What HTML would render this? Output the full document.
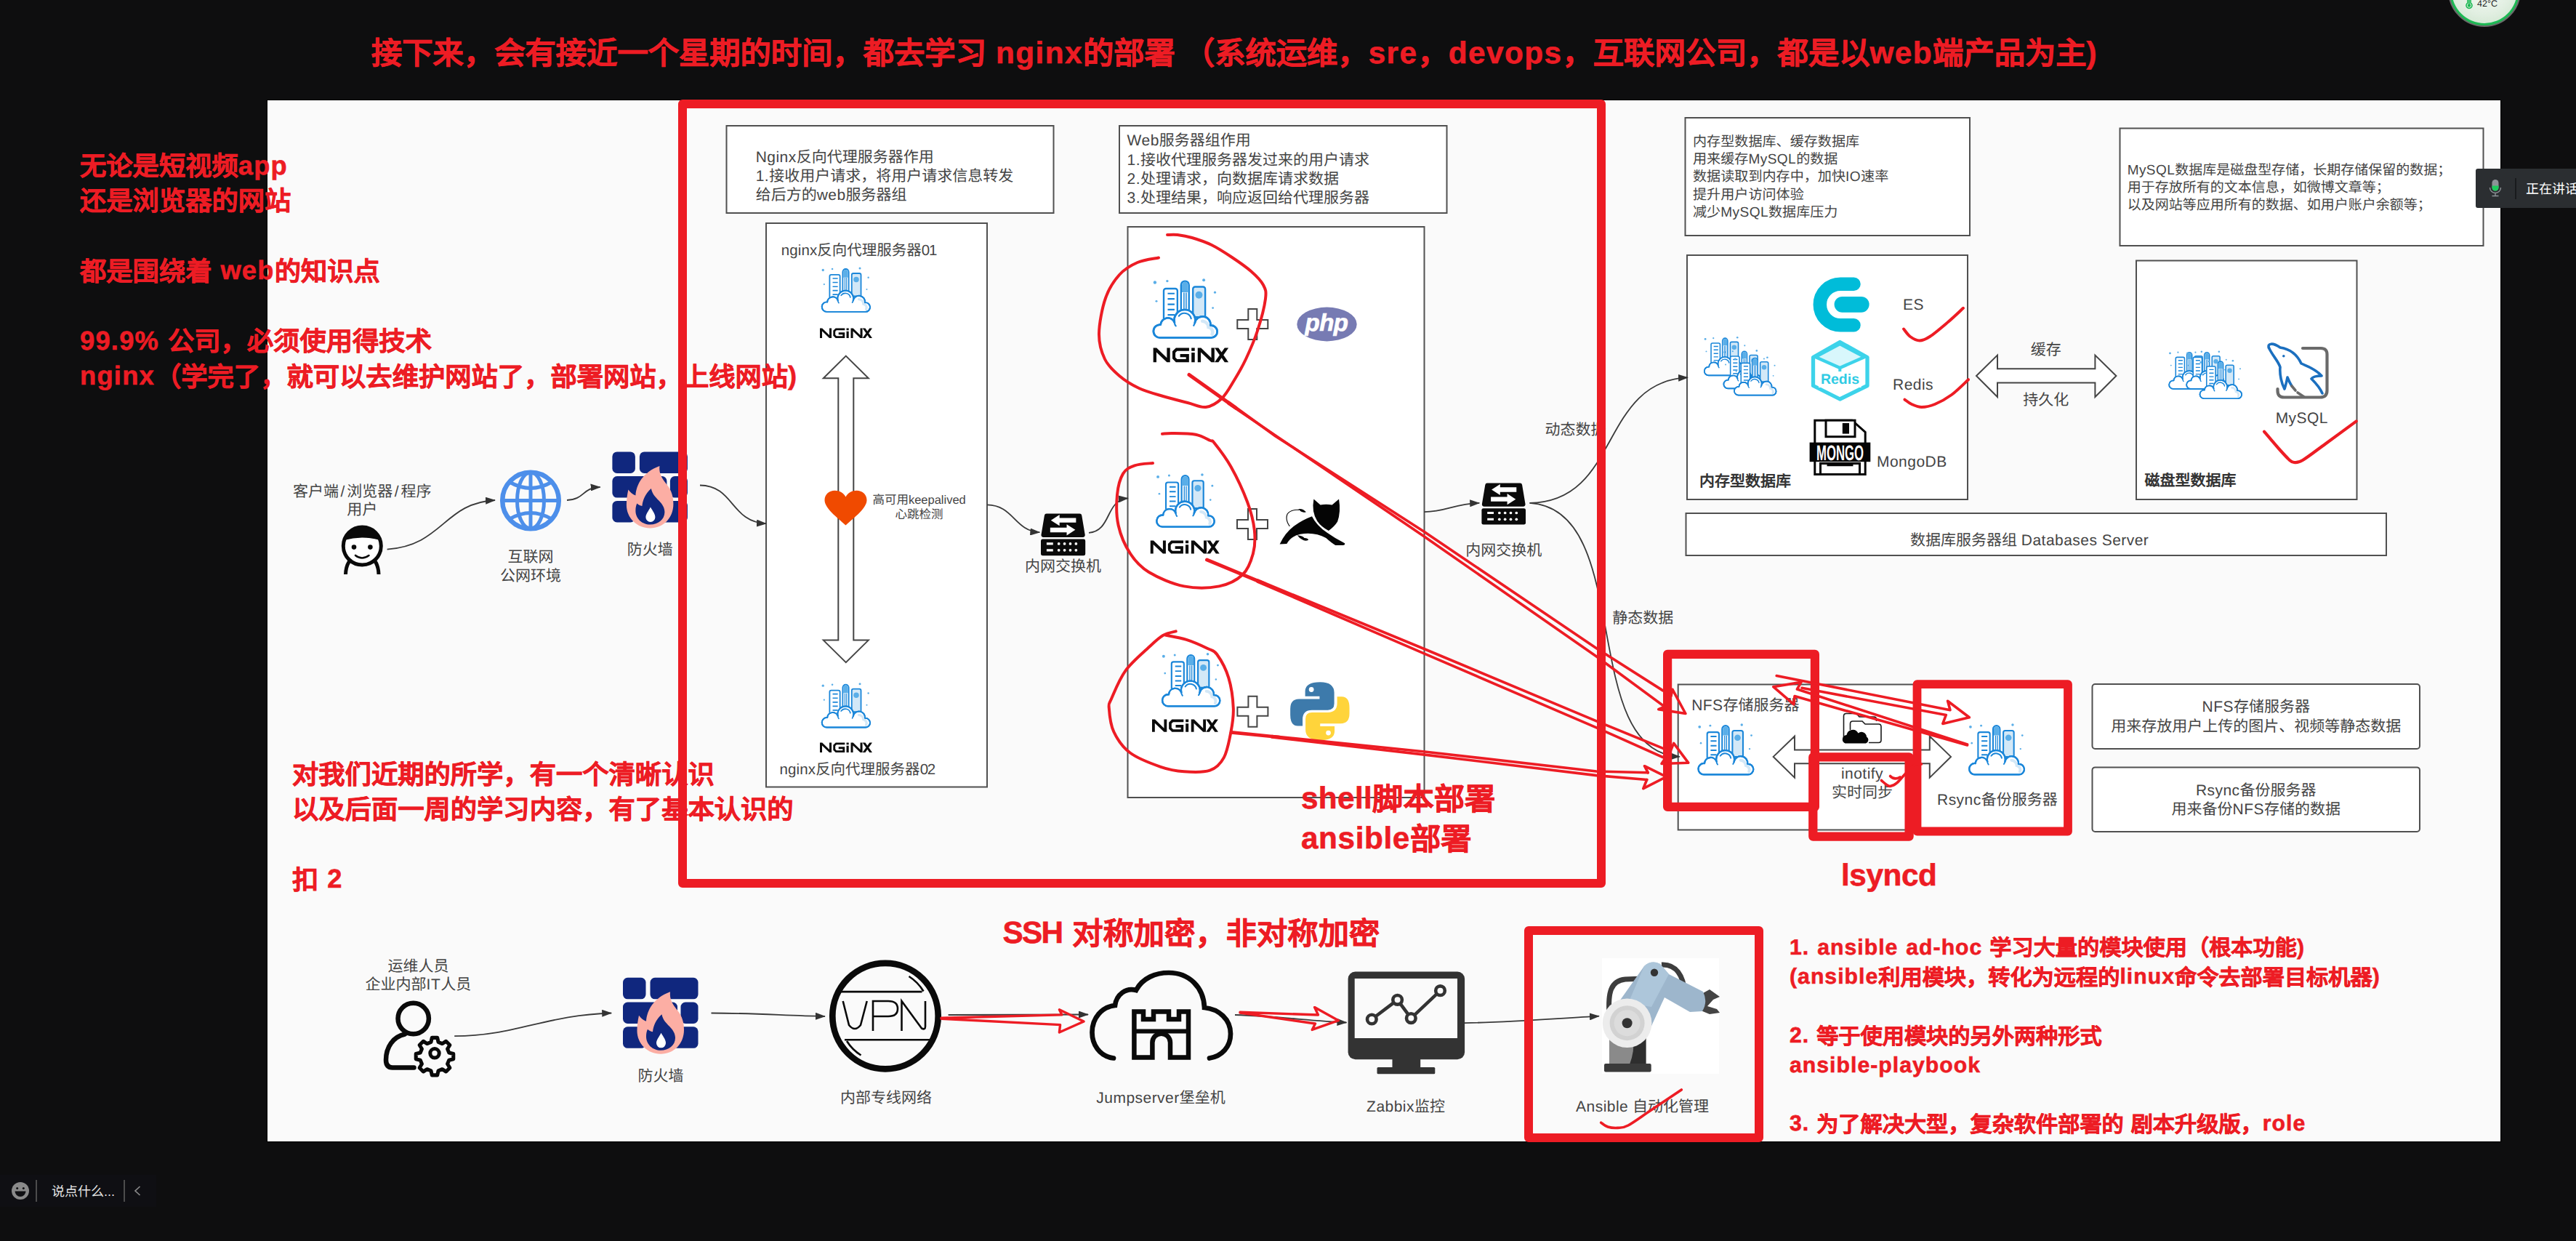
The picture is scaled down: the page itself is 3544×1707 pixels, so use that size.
<!DOCTYPE html>
<html lang="zh-CN">
<head>
<meta charset="utf-8">
<title>nginx architecture</title>
<style>
html,body{margin:0;padding:0;background:#0e0e0f;}
body{width:3544px;height:1707px;position:relative;overflow:hidden;font-family:"Liberation Sans",sans-serif;text-rendering:geometricPrecision;}
.panel{position:absolute;left:368px;top:138px;width:3072px;height:1432px;background:#fafafa;box-sizing:border-box;border:1px solid #fff;box-shadow:0 0 0 1px #000;}
svg.layer{position:absolute;left:0;top:0;width:3544px;height:1707px;overflow:visible;}
.t{position:absolute;white-space:nowrap;color:#454545;font-size:21px;line-height:26.3px;}
.t i{font-style:normal;letter-spacing:.022em;}
.c{text-align:center;transform:translateX(-50%);}
.r{position:absolute;white-space:nowrap;color:#ed1c24;font-weight:bold;-webkit-text-stroke:0.6px #ed1c24;}
.r{word-spacing:.05em;margin-top:1px;}
.t{margin-top:1.2px;}
.r b{letter-spacing:.034em;position:relative;top:-1.3px;}
.bx{fill:#fff;stroke:#505050;stroke-width:2;}
.ar{fill:none;stroke:#3a3a3a;stroke-width:1.8;}
.ah{fill:#3a3a3a;stroke:none;}
.rl{fill:none;stroke:#ed1c24;stroke-linecap:round;stroke-linejoin:round;}
</style>
</head>
<body>
<div class="panel"></div>

<!-- ===== diagram shapes ===== -->
<svg class="layer" id="dg" viewBox="0 0 3544 1707">
<defs>
<symbol id="city" viewBox="0 0 89 84" overflow="visible">
<g fill="#5aaee8"><circle cx="2.3" cy="6" r="2.2"/><circle cx="19.4" cy="4" r="1.7"/><circle cx="70" cy="2.7" r="2"/><circle cx="85.5" cy="19.7" r="1.6"/><circle cx="4.4" cy="32" r="1.5"/><circle cx="82.6" cy="41.3" r="1.4"/></g>
<path d="M55,54V15a3,3 0 0 1 3,-3h11a3,3 0 0 1 3,3V54z" fill="#d3e8f7" stroke="#1a86d9" stroke-width="2.4"/>
<circle cx="63.3" cy="23.4" r="5" fill="#5aaee8"/>
<path d="M14.5,56V17.5a3,3 0 0 1 3,-3h13a3,3 0 0 1 3,3V56" fill="#fff" stroke="#1a86d9" stroke-width="2.4"/>
<path d="M20,21.3h9.5M20,28.7h9.5M20,36.3h9.5M20,43.5h9.5M20,50.8h9.5" stroke="#1a86d9" stroke-width="2.2" fill="none"/>
<path d="M38.5,48V9.5a5.5,5.5 0 0 1 11,0V48" fill="#fff" stroke="#1a86d9" stroke-width="2.4"/>
<path d="M39.7,19.5V9.5a4.3,4.3 0 0 1 8.6,0V19.5z" fill="#5aaee8"/>
<path d="M42.6,20V46M45.6,20V46" stroke="#1a86d9" stroke-width="1.5" fill="none"/>
<path d="M9.5,82.5A9,9 0 1 1 10.2,64.55A10,10 0 0 1 29.5,61.5A14.5,14.5 0 1 1 57.6,62A11,11 0 0 1 79.3,65.55A8.5,8.5 0 1 1 80,82.5Z" fill="#fff" stroke="#1a86d9" stroke-width="2.6" stroke-linejoin="round"/>
<path d="M68,59.5a9,9 0 0 1 8.5,8.5a7,7 0 0 1 5,10" fill="none" stroke="#d3e8f7" stroke-width="4.5" stroke-linecap="round"/>
<path d="M9.5,82.5A9,9 0 1 1 10.2,64.55A10,10 0 0 1 29.5,61.5A14.5,14.5 0 1 1 57.6,62A11,11 0 0 1 79.3,65.55A8.5,8.5 0 1 1 80,82.5Z" fill="none" stroke="#1a86d9" stroke-width="2.6" stroke-linejoin="round"/>
<path d="M35.500,52.500a9.500,9.500 0 0 1 17,3.500M29.500,61.500a8,8 0 0 0 1.800,4.800M57.600,62a9,9 0 0 1 -1.600,3.600" fill="none" stroke="#1a86d9" stroke-width="2.2" stroke-linecap="round"/>
</symbol>
<symbol id="ngx" viewBox="0 0 105 21" overflow="visible">
<g fill="#0b0b0b">
<path d="M0,.5h4.6l14.4,14v-14h4.4v20h-4.4L4.4,6.5v14H0z"/>
<path d="M62,.5h4.6l14.4,14v-14h4.4v20h-4.4L66.4,6.5v14H62z"/>
<path d="M53.3,.5h4.6v4.3h-4.6zM53.3,7h4.6v13.5h-4.6z"/>
<path d="M85.6,.5h5.4l14,20h-5.4zM99.600,.5h5.400l-14,20h-5.400z"/>
</g>
<path d="M50,2.6H32.500L28.800,6.300V14.700L32.500,18.400H47.800V11.300H37.500" fill="none" stroke="#0b0b0b" stroke-width="4.200" stroke-linejoin="miter"/>
</symbol>
<symbol id="plus" viewBox="0 0 44 44" overflow="visible">
<path d="M16,1H28V16H43V28H28V43H16V28H1V16H16Z" fill="#fff" stroke="#454545" stroke-width="2"/>
</symbol>
<symbol id="sw" viewBox="0 0 62 60" overflow="visible">
<path d="M8,1.500h46a3,3 0 0 1 3,2.500l4.500,27a3,3 0 0 1 -3,3.500h-55a3,3 0 0 1 -3,-3.500l4.500,-27a3,3 0 0 1 3,-2.500z" fill="#0a0a0a"/>
<rect x="0" y="37" width="62" height="23" rx="2.500" fill="#0a0a0a"/>
<path d="M49,7.500v6.500h-23v4.500l-12,-7.700l12,-7.800v4.500zM13,21h23v-4.500l12,7.700l-12,7.800v-4.500h-23z" fill="#fff"/>
<path d="M8,43.500h9M8,52.500h9" stroke="#fff" stroke-width="3.200"/>
<g fill="#fff"><circle cx="25" cy="43.500" r="1.900"/><circle cx="33" cy="43.500" r="1.900"/><circle cx="41" cy="43.500" r="1.900"/><circle cx="49" cy="43.500" r="1.900"/><circle cx="25" cy="52.500" r="1.900"/><circle cx="33" cy="52.500" r="1.900"/><circle cx="41" cy="52.500" r="1.900"/><circle cx="49" cy="52.500" r="1.900"/></g>
</symbol>
<symbol id="fw" viewBox="0 0 103.500 105" overflow="visible">
<g fill="#10277e">
<rect x="0" y="0" width="31.500" height="29.500" rx="6.500"/><rect x="37.500" y="0" width="66" height="29.500" rx="6.500"/>
<rect x="0" y="33.700" width="75" height="29.500" rx="6.500"/><rect x="79.500" y="33.700" width="24" height="29.500" rx="6.500"/>
<rect x="0" y="67.500" width="31.500" height="29.500" rx="6.500"/><rect x="37.500" y="67.500" width="66" height="29.500" rx="6.500"/>
</g>
<path d="M65,19.500C64,30 68,36 75,45C82,54 84,62 84,72C84,91 70,105 52,105C34,105 19.500,91 19.500,73C19.500,66 20.500,59 22,52C25,56 28,58.500 32,60C33,45 42,28 65,19.500Z" fill="#fcaea4"/>
<path d="M53.500,50.500C55,58 59,62 64,67C69,72 72,77 72,83C72,93 63,100 52,100C41,100 32,92 32,81C32,77 32.500,74 34,71C36,73 38,74 41,74.500C42,66 45,58 53.500,50.500Z" fill="#10277e"/>
<path d="M52.500,76C56,82 59,85.500 59,90A6.500,6.500 0 0 1 46,90C46,85.500 49.500,82 52.500,76Z" fill="#fff"/>
</symbol>
<marker id="ah" viewBox="0 0 14 10" refX="13" refY="5" markerWidth="14" markerHeight="10" markerUnits="userSpaceOnUse" orient="auto"><path d="M0,0L14,5L0,10Z" fill="#333"/></marker>
</defs>
<g id="boxes">
<rect class="bx" x="999.5" y="173" width="450" height="120"/>
<rect class="bx" x="1540" y="173" width="450.5" height="120"/>
<rect class="bx" x="1054" y="307" width="304" height="775.5"/>
<rect class="bx" x="1551.5" y="312" width="408" height="785"/>
<rect class="bx" x="2318.5" y="162" width="391.5" height="162"/>
<rect class="bx" x="2916.5" y="176.5" width="500" height="161.5"/>
<rect class="bx" x="2321" y="351" width="386" height="336"/>
<rect class="bx" x="2939" y="358.5" width="303.5" height="328.5"/>
<rect class="bx" x="2319.5" y="706" width="963.5" height="58"/>
<rect class="bx" x="2308.7" y="941.5" width="535" height="200"/>
<rect class="bx" x="2878.5" y="941" width="450.5" height="89" rx="4"/>
<rect class="bx" x="2878.5" y="1055.4" width="450.5" height="88.6" rx="4"/>
</g>
<g id="icons">
<!-- proxy column -->
<use href="#city" x="1130.5" y="367" width="66.8" height="63"/>
<use href="#ngx" x="1128" y="451" width="72" height="14.5"/>
<use href="#city" x="1130.5" y="938.7" width="66.800" height="63"/>
<use href="#ngx" x="1128" y="1021" width="72" height="14.500"/>
<path d="M1163.800,489.600L1194.800,520.200H1174.300V880.600H1194.800L1163.800,911.200L1132.800,880.600H1153.300V520.200H1132.800Z" fill="#fff" stroke="#454545" stroke-width="2" stroke-linejoin="miter"/>
<path d="M1163.500,722.500C1152,712 1134.500,699 1134.500,688C1134.500,680 1141,674.800 1148.500,674.800C1155,674.800 1160.500,678 1163.500,683.500C1166.500,678 1172,674.800 1178.500,674.800C1186,674.800 1192.500,680 1192.500,688C1192.500,699 1175,712 1163.500,722.500Z" fill="#f04a00"/>
<!-- web column -->
<use href="#city" x="1586.600" y="382.600" width="88.400" height="83.400"/>
<use href="#ngx" x="1585.800" y="478" width="105.200" height="20.700"/>
<use href="#city" x="1591" y="650" width="80" height="76.500"/>
<use href="#ngx" x="1581.500" y="743" width="97.500" height="19"/>
<use href="#city" x="1598" y="897.400" width="81.400" height="75.300"/>
<use href="#ngx" x="1585" y="989" width="91" height="18.400"/>
<use href="#plus" x="1701.300" y="424" width="44" height="44"/>
<use href="#plus" x="1701" y="699" width="44" height="44"/>
<use href="#plus" x="1701.400" y="956.700" width="44" height="44"/>
<!-- php -->
<ellipse cx="1825.500" cy="446" rx="41.200" ry="23.400" fill="#777bb3"/>
<text x="1825" y="454.500" font-family="Liberation Sans, sans-serif" font-weight="bold" font-style="italic" font-size="33" fill="#fff" text-anchor="middle" letter-spacing="-.5" stroke="#fff" stroke-width=".7">php</text>
<!-- tomcat -->
<g transform="translate(1560,620) scale(0.16116)" fill="#050505">
<path d="M1535,412L1592,462Q1640,452 1692,462L1750,412Q1768,520 1738,605Q1710,650 1662,682Q1600,650 1565,600Q1515,520 1535,412Z"/>
<path d="M1520,560Q1560,640 1650,700Q1720,750 1800,790Q1805,806 1785,806L1720,806Q1690,790 1640,745Q1540,690 1420,712Q1340,730 1305,795L1245,797Q1290,700 1370,640Q1440,590 1520,560Z"/>
<path d="M1405,497Q1440,490 1470,522Q1430,535 1405,497ZM1395,722Q1440,725 1455,745Q1485,745 1490,762Q1460,775 1435,757Q1410,745 1395,722Z"/>
<path d="M1330,645Q1290,590 1310,540Q1340,500 1410,505" fill="none" stroke="#050505" stroke-width="7"/>
</g>
<!-- python -->
<g transform="translate(1560,880) scale(0.16116)">
<g fill="#3d7aab"><path id="pyb" d="M1590,362Q1650,362 1680,385Q1710,410 1710,450V545Q1710,600 1655,600H1520Q1440,600 1440,680V735H1400Q1335,735 1335,640V590Q1335,505 1410,505H1585V482H1462V440Q1462,362 1590,362Z"/></g>
<circle cx="1515" cy="425" r="21" fill="#fff"/>
<g fill="#ffd43b"><use href="#pyb" transform="rotate(180 1587.500 610)"/></g>
<circle cx="1660" cy="795" r="21" fill="#fff"/>
</g>
<!-- switches -->
<use href="#sw" x="1432" y="704.800" width="61.200" height="59.600"/>
<use href="#sw" x="2038.400" y="662.800" width="60.600" height="59"/>
<!-- user -->
<g>
<path d="M475.500,790C476,776 482,768 490,765M521,790C520.500,776 514.500,768 507,765" fill="none" stroke="#0a0a0a" stroke-width="5" stroke-linecap="butt"/>
<circle cx="498.300" cy="751" r="26" fill="#fff" stroke="#0a0a0a" stroke-width="5"/>
<path d="M473.500,743A26,26 0 0 1 523,743Q498,736 473.500,743Z" fill="#0a0a0a"/>
<circle cx="487" cy="752.600" r="3.300" fill="#0a0a0a"/><circle cx="509.400" cy="752.600" r="3.300" fill="#0a0a0a"/>
<path d="M489,764Q498,771 507.500,764" fill="none" stroke="#0a0a0a" stroke-width="2.600" stroke-linecap="round"/>
</g>
<!-- globe -->
<g fill="none" stroke="#4d8fea" stroke-width="6.500">
<circle cx="730" cy="688.500" r="38.800"/>
<ellipse cx="730" cy="688.500" rx="18.500" ry="38.800" stroke-width="5"/>
<path d="M730,650V727M691,688.500H769" stroke-width="5"/>
<path d="M701,663Q730,680 759,663M701,714Q730,697 759,714" stroke-width="5"/>
</g>
<!-- firewalls -->
<use href="#fw" x="842.400" y="621.400" width="103.500" height="105"/>
<use href="#fw" x="857" y="1344.800" width="103.500" height="105"/>
<!-- ops user -->
<g fill="none" stroke="#0a0a0a" stroke-width="6.500" stroke-linecap="round">
<circle cx="568.700" cy="1401" r="21.200"/>
<path d="M557,1422.500C541,1426 531,1440 531,1458C531,1465 534,1468.500 540,1468.500H569.500"/>
<circle cx="598" cy="1448.800" r="6.200" stroke-width="5"/>
<path d="M594,1425.500h8l1.500,6.500l5.800,2.400l5.700,-3.600l5.700,5.700l-3.600,5.700l2.400,5.800l6.500,1.500v8l-6.500,1.500l-2.400,5.800l3.600,5.700l-5.700,5.700l-5.700,-3.600l-5.800,2.400l-1.500,6.500h-8l-1.500,-6.500l-5.800,-2.400l-5.700,3.600l-5.700,-5.700l3.600,-5.700l-2.400,-5.800l-6.500,-1.500v-8l6.500,-1.500l2.400,-5.800l-3.600,-5.700l5.700,-5.700l5.700,3.600l5.800,-2.400z" stroke-width="5.500" stroke-linejoin="round" transform="translate(598 1448.800) scale(0.92) translate(-598 -1448.800)"/>
</g>
<!-- VPN -->
<g fill="none" stroke="#0a0a0a">
<circle cx="1218" cy="1397.600" r="72.700" stroke-width="8.700"/>
<path d="M1155.500,1364.100H1268.500M1162,1430.300H1280.500" stroke-width="2.600"/>
<path d="M1250.500,1343A62,62 0 0 1 1270.500,1363.500M1165,1432A62,62 0 0 0 1184.500,1451.500" stroke-width="2.600"/>
<path d="M1159.700,1377L1168,1410Q1176,1420 1184,1410L1192.700,1377M1201,1418V1377H1222Q1235,1377 1235,1387.500Q1235,1398 1222,1398H1201M1240.500,1418V1377L1268,1414.500Q1273,1417 1273,1412V1377" stroke-width="2.600"/>
</g>
<!-- jumpserver -->
<g fill="none" stroke="#0a0a0a" stroke-width="6.700" stroke-linecap="round">
<path d="M1532,1455.500C1512,1453 1502.500,1436 1502.500,1420C1502.500,1400 1516,1385 1534,1383C1536,1368 1549,1358 1563,1362C1572,1345 1590,1338 1608,1338C1636,1338 1656,1358 1657,1386C1677,1388 1693,1402 1693,1422C1693,1440 1681,1453 1664,1455.500"/>
<path d="M1560.400,1454.400V1391.400H1573V1402H1587V1391.400H1608V1402H1622V1391.400H1635V1454.400H1610V1434A12.300,12.300 0 0 0 1585.400,1434V1454.400Z" stroke-linejoin="miter" stroke-linecap="butt" stroke-width="6.500"/>
<path d="M1560.400,1418.500H1635" stroke-width="6" stroke-linecap="butt"/>
</g>
<!-- zabbix -->
<g>
<rect x="1854.600" y="1336.500" width="160.500" height="120.700" rx="10" fill="#333"/>
<rect x="1863.700" y="1346" width="141.300" height="82" fill="#fafafa"/>
<rect x="1915.500" y="1456" width="38.700" height="13" fill="#333"/>
<rect x="1894.500" y="1468" width="79.800" height="9.300" rx="1.500" fill="#333"/>
<path d="M1887.300,1402L1922.600,1375.300L1941.300,1400.600L1981.500,1362.700" fill="none" stroke="#333" stroke-width="4.600"/>
<g fill="#fafafa" stroke="#333" stroke-width="4.600"><circle cx="1887.300" cy="1402" r="6.300"/><circle cx="1922.600" cy="1375.300" r="6.300"/><circle cx="1941.300" cy="1400.600" r="6.300"/><circle cx="1981.500" cy="1362.700" r="6.300"/></g>
</g>
<!-- robot arm -->
<g>
<rect x="2204" y="1318" width="161" height="159" fill="#fff" opacity=".85"/>
<path d="M2214,1395C2212,1365 2216,1349 2236,1347L2262,1346" fill="none" stroke="#3d3d3d" stroke-width="7"/>
<path d="M2286,1327C2306,1326 2316,1342 2318,1366" fill="none" stroke="#3d3d3d" stroke-width="7"/>
<rect x="2214" y="1428" width="50.500" height="36" fill="#8a8a8a"/>
<path d="M2247,1428H2264.500V1464H2242Q2249,1446 2247,1428Z" fill="#2e2e2e"/>
<rect x="2207" y="1463" width="64.700" height="11.500" rx="2" fill="#3a3a3a"/>
<path d="M2343,1366L2352,1361L2366,1371L2357,1375L2349,1384L2362,1388L2366,1393L2352,1395L2340,1390Z" fill="#444"/>
<path d="M2228,1377L2262,1329Q2272,1320 2284,1326L2296,1340L2343,1364Q2350,1378 2342,1391L2325,1392L2290,1372L2268,1420Z" fill="#9db6cc"/>
<path d="M2262,1329Q2272,1320 2284,1326L2296,1340L2272,1385L2240,1380Z" fill="#adc6da"/>
<circle cx="2276" cy="1337.700" r="5.200" fill="#333"/>
<circle cx="2238.600" cy="1407.200" r="33.800" fill="#ececec"/>
<circle cx="2238.600" cy="1407.200" r="24" fill="#d2d2d2"/>
<circle cx="2238.600" cy="1407.200" r="18" fill="#dcdcdc"/>
<circle cx="2238.600" cy="1407.200" r="7" fill="#333"/>
</g>
</g>
<g id="icons2">
<!-- memory cluster -->
<use href="#city" x="2344.600" y="462.400" width="58" height="55"/>
<use href="#city" x="2371.200" y="480.500" width="58" height="55"/>
<use href="#city" x="2385.800" y="489.800" width="58" height="55"/>
<!-- ES -->
<path d="M2550.500,390.800H2532A28.200,28.200 0 0 0 2532,447.200H2550.500" fill="none" stroke="#00bcd9" stroke-width="18.500" stroke-linecap="round"/>
<rect x="2523.600" y="407.900" width="48" height="21.800" rx="10.900" fill="#00bcd9"/>
<!-- Redis -->
<path d="M2531.300,470.500L2569,491.500V530.500L2531.300,549L2494.500,530.500V491.500Z" fill="#fff" stroke="#3dd3ea" stroke-width="5.300" stroke-linejoin="round"/>
<path d="M2531.300,473L2565.300,491L2531.300,506L2497.500,491Z" fill="#d8f7fc" stroke="#3dd3ea" stroke-width="4.500" stroke-linejoin="round"/>
<path d="M2531.300,506V512" stroke="#3dd3ea" stroke-width="4" fill="none"/>
<rect x="2502" y="511" width="58.500" height="22" fill="#fff"/>
<text x="2531.500" y="528" font-family="Liberation Sans, sans-serif" font-weight="bold" font-size="19.500" fill="#2fcbe4" text-anchor="middle">Redis</text>
<!-- Mongo -->
<g>
<path d="M2496.800,578.200H2548L2566.200,594.500V652.500H2496.800Z" fill="#fff" stroke="#050505" stroke-width="3"/>
<rect x="2512" y="578.200" width="40" height="22.500" fill="#fff" stroke="#050505" stroke-width="3"/>
<rect x="2534.800" y="582" width="9.200" height="14.600" fill="#050505"/>
<rect x="2489.600" y="608.600" width="83.700" height="26.600" fill="#050505"/>
<path d="M2504.500,636V652.500M2558.500,636V652.500M2504.500,637.500H2558.500" stroke="#050505" stroke-width="3" fill="none"/>
<path d="M2513.500,640H2549.500" stroke="#050505" stroke-width="2.600"/>
<text x="2531.500" y="632.500" font-family="Liberation Sans, sans-serif" font-weight="bold" font-size="29.500" fill="#fff" text-anchor="middle" textLength="65" lengthAdjust="spacingAndGlyphs">MONGO</text>
</g>
<!-- mem <-> disk arrow -->
<path d="M2719,517L2748,488.600V507.300H2882.400V488.600L2911.400,517L2882.400,546V526.600H2748V546Z" fill="#fff" stroke="#454545" stroke-width="2"/>
<!-- disk cluster -->
<use href="#city" x="2984" y="482" width="57" height="54"/>
<use href="#city" x="3008" y="482" width="57" height="54"/>
<use href="#city" x="3026.300" y="494.500" width="58" height="54.700"/>
<!-- MySQL -->
<g fill="none" stroke-linecap="round" stroke-linejoin="round">
<path d="M3168,479H3193Q3201.500,479 3201.500,487.500V537Q3201.500,546.500 3192,546.500H3142.500Q3133.500,546.500 3133.500,537.500V535" stroke="#6a6a6a" stroke-width="4.200"/>
<path d="M3121.500,478.500C3119,472 3127,471 3137,478C3150,480 3160,487 3166,500C3172,503 3184,506 3194,517C3187,517 3182,518 3180,521C3186,527 3192,534 3195,541" stroke="#1b6fbf" stroke-width="3.600"/>
<path d="M3121.500,478.500C3127,490 3134,496 3137,505C3136,515 3139,528 3143,535C3145,529 3146,524 3147,519C3149,524 3151,528 3153,531" stroke="#1b6fbf" stroke-width="3.600"/>
<path d="M3153,531L3158,537M3161,540L3170,546" stroke="#6a6a6a" stroke-width="3.600"/>
<circle cx="3141.800" cy="489.800" r="1.800" fill="#1b6fbf" stroke="none"/>
</g>
<!-- NFS / Rsync -->
<use href="#city" x="2335" y="994.700" width="78.800" height="72"/>
<use href="#city" x="2707.700" y="994.700" width="78.800" height="72"/>
<path d="M2439.700,1040.900L2469,1012.700V1031.400H2654.800V1012.700L2684,1040.900L2654.800,1069.700V1050.300H2469V1069.700Z" fill="#fff" stroke="#454545" stroke-width="2"/>
<g fill="none" stroke="#1a1a1a" stroke-width="1.600">
<path d="M2536.500,1016V985Q2536.500,981.500 2540,981.500H2554L2558,986H2578Q2581.500,986 2581.500,989.500V992"/>
<path d="M2571,1021.500H2584.500Q2588,1021.500 2588,1018V999.500Q2588,996 2584.500,996H2566L2562,992H2549Q2545.500,992 2545.500,995.500V1004"/>
</g>
<path d="M2538.500,1022.500A6,6 0 0 1 2540.500,1011A8.500,8.500 0 0 1 2556.500,1008.500A7,7 0 0 1 2568,1013.500A5,5 0 0 1 2567,1022.500Z" fill="#050505"/>
</g>

<g id="arrows" class="ar" marker-end="url(#ah)">
<path d="M532.600,755.600C610,750 610,692 681,688"/>
<path d="M780,688C805,687 800,671 825.600,670"/>
<path d="M963,667.500C1010,668 1005,718 1054,720.200"/>
<path d="M1358,694.400C1395,695 1395,730 1430.300,732.200"/>
<path d="M1498,732.800C1530,730 1520,688 1551.800,685.400"/>
<path d="M1959.500,704.100C1990,704 2000,693 2035.200,691.900"/>
<path d="M2104.500,691.900C2230,690 2200,525 2322,519.200"/>
<path d="M2104.500,691.900C2250,700 2170,1035 2310.800,1040.800"/>
<path d="M625.200,1425.200C710,1425 750,1396 841.200,1393.500"/>
<path d="M978.500,1393.500C1040,1393.500 1080,1397 1134.900,1398"/>
<path d="M1304.600,1396L1497,1395.500"/>
<path d="M1699,1396C1760,1398 1800,1404 1852.500,1406.500"/>
<path d="M2015,1407.200C2080,1406 2140,1401 2199.900,1397.700"/>
</g>

</svg>

<!-- ===== diagram text ===== -->
<div id="dtext">
<div class="t" style="left:1039.7px;top:203.1px;line-height:26.1px;"><i>Nginx</i>反向代理服务器作用<br><i>1.</i>接收用户请求，将用户请求信息转发<br>给后方的<i>web</i>服务器组</div>
<div class="t" style="left:1550.6px;top:180.2px;"><i>Web</i>服务器组作用<br><i>1.</i>接收代理服务器发过来的用户请求<br><i>2.</i>处理请求，向数据库请求数据<br><i>3.</i>处理结果，响应返回给代理服务器</div>
<div class="t" style="left:2329px;top:182.8px;font-size:19.1px;line-height:24.2px;">内存型数据库、缓存数据库<br>用来缓存<i>MySQL</i>的数据<br>数据读取到内存中，加快<i>IO</i>速率<br>提升用户访问体验<br>减少<i>MySQL</i>数据库压力</div>
<div class="t" style="left:2926.7px;top:221.5px;font-size:19px;line-height:24.15px;"><i>MySQL</i>数据库是磁盘型存储，长期存储保留的数据；<br>用于存放所有的文本信息，如微博文章等；<br>以及网站等应用所有的数据、如用户账户余额等；</div>
<div class="t" style="left:1074.8px;top:330.8px;font-size:20.5px;line-height:26px;"><i style="letter-spacing:.005em">nginx</i>反向代理服务器<i style="letter-spacing:-.06em">01</i></div>
<div class="t" style="left:1072.6px;top:1045.0px;font-size:20.5px;line-height:26px;"><i style="letter-spacing:.005em">nginx</i>反向代理服务器<i style="letter-spacing:-.06em">02</i></div>
<div class="t c" style="left:1264.6px;top:676.9px;font-size:16.5px;line-height:20.3px;">高可用<i style="letter-spacing:0">keepalived</i><br>心跳检测</div>
<div class="t c" style="left:1462.6px;top:766.0px;line-height:26px;">内网交换机</div>
<div class="t c" style="left:2068.7px;top:744.0px;line-height:26px;">内网交换机</div>
<div class="t c" style="left:498.3px;top:663.2px;line-height:25px;">客户端<i style="margin:0 2.5px">/</i>浏览器<i style="margin:0 2.5px">/</i>程序<br>用户</div>
<div class="t c" style="left:730px;top:753.1px;line-height:25.6px;">互联网<br>公网环境</div>
<div class="t c" style="left:894.3px;top:743.0px;line-height:26px;">防火墙</div>
<div class="t c" style="left:908.9px;top:1466.6px;line-height:26px;">防火墙</div>
<div class="t c" style="left:575.4px;top:1315.7px;line-height:25.2px;">运维人员<br>企业内部<i>IT</i>人员</div>
<div class="t c" style="left:1219px;top:1496.5px;line-height:26px;">内部专线网络</div>
<div class="t c" style="left:1597px;top:1496.5px;line-height:26px;"><i>Jumpserver</i>堡垒机</div>
<div class="t c" style="left:1934px;top:1509.0px;line-height:26px;"><i>Zabbix</i>监控</div>
<div class="t c" style="left:2259.6px;top:1509.0px;line-height:26px;"><i>Ansible</i> 自动化管理</div>
<div class="t" style="left:2125.5px;top:578.0px;line-height:26px;">动态数据</div>
<div class="t" style="left:2218.3px;top:836.8px;line-height:26px;">静态数据</div>
<div class="t" style="left:2618px;top:405.5px;line-height:26px;"><i>ES</i></div>
<div class="t" style="left:2604px;top:515.9px;line-height:26px;"><i>Redis</i></div>
<div class="t" style="left:2582px;top:621.4px;line-height:26px;"><i>MongoDB</i></div>
<div class="t" style="left:2338px;top:648.8px;line-height:26px;font-weight:bold;color:#333;">内存型数据库</div>
<div class="t" style="left:2950.5px;top:648.0px;line-height:26px;font-weight:bold;color:#333;">磁盘型数据库</div>
<div class="t c" style="left:2814.7px;top:467.5px;line-height:26px;">缓存</div>
<div class="t c" style="left:2814.7px;top:537.0px;line-height:26px;">持久化</div>
<div class="t c" style="left:3166.8px;top:562.2px;line-height:26px;"><i>MySQL</i></div>
<div class="t" style="left:2628px;top:729.9px;line-height:26px;">数据库服务器组 <i>Databases Server</i></div>
<div class="t" style="left:2327.2px;top:957.0px;line-height:26px;"><i>NFS</i>存储服务器</div>
<div class="t c" style="left:2562px;top:1050.8px;line-height:26.4px;"><i>inotify</i><br>实时同步</div>
<div class="t" style="left:2665px;top:1086.4px;line-height:26px;"><i>Rsync</i>备份服务器</div>
<div class="t c" style="left:3103.75px;top:959.2px;line-height:26.5px;"><i>NFS</i>存储服务器<br>用来存放用户上传的图片、视频等静态数据</div>
<div class="t c" style="left:3103.75px;top:1074.0px;line-height:26px;"><i>Rsync</i>备份服务器<br>用来备份<i>NFS</i>存储的数据</div>
</div>

<!-- ===== red annotations ===== -->
<svg class="layer" id="red" viewBox="0 0 3544 1707">
<g class="rl" stroke-width="12">
<rect x="939" y="143" width="1264" height="1072"/>
<rect x="2294.100" y="899.900" width="202.800" height="210" stroke-width="12.200"/>
<rect x="2637.500" y="941.200" width="207.500" height="202.300" stroke-width="11.800"/>
<rect x="2494.300" y="1041.400" width="132.300" height="109.200" stroke-width="12.300"/>
<rect x="2103" y="1280" width="317" height="285"/>
</g>
<g class="rl" stroke-width="4">
<path d="M1594.0,354.5C1589.2,355.6 1574.0,357.1 1565.0,361.0C1556.0,364.9 1547.3,369.8 1540.0,378.0C1532.7,386.2 1525.7,396.5 1521.0,410.0C1516.3,423.5 1512.2,445.0 1512.0,459.0C1511.8,473.0 1515.3,484.3 1520.0,494.0C1524.7,503.7 1532.2,510.3 1540.0,517.0C1547.8,523.7 1557.0,529.3 1567.0,534.0C1577.0,538.7 1588.8,541.7 1600.0,545.0C1611.2,548.3 1624.2,551.5 1634.0,554.0C1643.8,556.5 1651.2,561.0 1659.0,560.0C1666.8,559.0 1674.5,554.2 1681.0,548.0C1687.5,541.8 1692.5,532.0 1698.0,523.0C1703.5,514.0 1708.7,505.3 1714.0,494.0C1719.3,482.7 1725.5,468.8 1730.0,455.0C1734.5,441.2 1739.7,421.5 1741.0,411.0C1742.3,400.5 1741.3,398.3 1738.0,392.0C1734.7,385.7 1728.2,379.3 1721.0,373.0C1713.8,366.7 1704.0,360.0 1695.0,354.0C1686.0,348.0 1676.2,341.5 1667.0,337.0C1657.8,332.5 1647.8,329.3 1640.0,327.0C1632.2,324.7 1625.7,323.7 1620.0,323.0C1614.3,322.3 1608.3,323.0 1606.0,323.0"/>
<path d="M1586.0,637.0C1581.8,637.5 1567.8,637.9 1561.0,640.3C1554.2,642.7 1549.0,644.9 1545.0,651.6C1541.0,658.3 1538.1,668.8 1537.0,680.6C1535.9,692.4 1535.6,709.1 1538.6,722.5C1541.6,735.9 1547.8,750.5 1554.8,761.2C1561.8,772.0 1568.2,779.5 1580.6,787.0C1593.0,794.5 1612.9,803.2 1629.0,806.4C1645.1,809.6 1664.0,809.1 1677.4,806.4C1690.9,803.7 1701.9,797.8 1709.7,790.3C1717.5,782.8 1721.3,771.4 1724.0,761.2C1726.7,751.0 1727.1,740.8 1725.8,729.0C1724.5,717.2 1721.4,704.8 1716.0,690.3C1710.6,675.8 1701.0,655.4 1693.5,642.0C1686.0,628.6 1675.8,615.7 1671.0,609.7C1666.2,603.7 1668.8,607.8 1664.5,605.8C1660.2,603.8 1653.6,599.3 1645.0,597.7C1636.4,596.1 1620.7,596.1 1613.0,596.0C1605.3,595.9 1601.3,596.7 1599.0,596.8"/>
<path d="M1617.7,868.4C1614.8,869.3 1606.2,870.4 1600.0,874.0C1593.8,877.6 1589.2,882.2 1580.6,890.3C1572.0,898.4 1557.0,910.8 1548.4,922.6C1539.8,934.4 1532.8,952.7 1529.0,961.3C1525.2,969.9 1525.2,966.7 1525.8,974.2C1526.3,981.7 1527.5,996.3 1532.3,1006.5C1537.1,1016.7 1544.0,1027.5 1554.8,1035.5C1565.5,1043.5 1584.4,1050.5 1596.8,1054.8C1609.2,1059.1 1617.7,1060.5 1629.0,1061.3C1640.3,1062.1 1655.3,1062.9 1664.5,1059.7C1673.7,1056.5 1679.1,1050.8 1683.9,1041.9C1688.7,1033.0 1691.3,1017.8 1693.5,1006.5C1695.7,995.2 1697.3,986.6 1696.8,974.2C1696.3,961.8 1694.1,944.7 1690.3,932.3C1686.5,919.9 1679.0,906.7 1674.2,900.0C1669.4,893.3 1668.3,895.4 1661.3,892.0C1654.3,888.6 1642.0,883.0 1632.3,879.9C1622.6,876.8 1608.0,874.6 1603.2,873.5"/>
<path d="M2619.0,452.5C2620.5,454.2 2624.3,460.3 2628.0,463.0C2631.7,465.7 2636.5,468.5 2641.0,468.5C2645.5,468.5 2648.5,467.2 2655.0,463.0C2661.5,458.8 2672.3,449.5 2680.0,443.0C2687.7,436.5 2697.5,427.0 2701.0,423.8" stroke-width="4"/>
<path d="M2620.4,549.6C2622.0,550.7 2626.1,554.3 2630.0,556.0C2633.9,557.7 2638.5,560.0 2643.8,560.0C2649.1,560.0 2655.1,558.8 2662.0,556.0C2668.9,553.2 2677.3,548.6 2685.0,543.0C2692.7,537.4 2704.2,525.7 2708.0,522.2" stroke-width="4"/>
<path d="M3115.0,593.6C3118.3,597.5 3129.3,610.6 3135.0,617.0C3140.7,623.4 3145.5,628.8 3149.0,632.0C3152.5,635.2 3152.8,635.8 3156.0,636.0C3159.2,636.2 3160.7,637.3 3168.0,633.0C3175.3,628.7 3187.7,618.9 3200.0,610.0C3212.3,601.1 3234.8,584.5 3241.8,579.4" stroke-width="4.2"/>
<path d="M2202.7,1544.2C2204.2,1545.2 2208.2,1548.8 2212.0,1550.0C2215.8,1551.2 2221.0,1551.7 2225.7,1551.4C2230.4,1551.1 2232.6,1551.9 2240.0,1548.0C2247.4,1544.1 2257.8,1536.2 2270.0,1528.0C2282.2,1519.8 2306.1,1503.8 2313.3,1499.0" stroke-width="3.6"/>
<path d="M2588.4,1073.5C2589.5,1074.4 2592.9,1077.7 2595.0,1079.0C2597.1,1080.3 2598.2,1081.8 2600.7,1081.4C2603.1,1081.1 2606.1,1079.9 2609.7,1076.9C2613.3,1073.9 2618.0,1067.6 2622.1,1063.4C2626.2,1059.2 2630.9,1054.1 2634.5,1052.0C2638.1,1049.9 2642.0,1051.2 2643.5,1051.0" stroke-width="3.6"/>
<path d="M2600.5,1067.500Q2606,1073.500 2614,1069" stroke-width="3.6"/>
</g>
<g class="rl" stroke-width="3.600">
<!-- arrow 1 -->
<path d="M1636,515.500L1700,561" stroke-width="5"/>
<path d="M1690,553L1754.800,600L1958,730.500L2196.400,891.700L2299,957"/>
<path d="M1690,555L1958,737L2196.400,903L2290,972"/>
<path d="M2299,957L2301,948.300L2318.900,981.500L2281.800,975.700L2290,972"/>
<!-- arrow 2 -->
<path d="M1660.500,770L1740,803" stroke-width="5"/>
<path d="M1730,798L1958,892L2196.400,991.800L2298,1033.500"/>
<path d="M1730,800L1958,898.400L2196.400,1000.800L2291,1043"/>
<path d="M2298,1033.500L2302.700,1022.400L2322.700,1049.200L2286,1050.500L2291,1043"/>
<!-- arrow 3 -->
<path d="M1694,1007.400L1760,1014" stroke-width="4.600"/>
<path d="M1750,1012.500L1958,1033.700L2196.400,1061L2267.300,1062.800"/>
<path d="M1750,1014L1958,1037.900L2196.400,1066.600L2265.700,1072.500"/>
<path d="M2267.300,1062.800L2262.500,1053.700L2292.400,1068.500L2260.800,1084.600L2265.700,1072.500"/>
<!-- NFS -> Rsync -->
<path d="M2444.200,929.600L2683,976.700L2679.600,964.300L2709.300,986.800L2672.800,995.400L2677.300,983.400L2479,946.300"/>
<!-- Rsync -> NFS -->
<path d="M2706.600,1024L2472.400,948L2478,938.400L2439.700,944.700L2467.900,968.800L2469,957.600L2706.600,1025"/>
<!-- VPN -> Jumpserver -->
<path d="M1295,1400.200L1461,1395.900L1457.400,1388.700L1491.100,1405L1457.400,1420L1458.600,1409.600L1295,1401.200" stroke-width="3.400"/>
<!-- Jumpserver -> Zabbix -->
<path d="M1706,1392.300L1813.500,1396L1808.600,1385.600L1841.400,1403.700L1805.200,1416.400L1809.500,1408L1706,1393" stroke-width="3.400"/>
</g>

</svg>

<div id="rtext">
<div class="r" style="left:511px;top:45px;font-size:42.3px;line-height:56px;">接下来，会有接近一个星期的时间，都去学习<b style="margin-left:13px">nginx</b>的部署<span style="margin-left:12px">（</span>系统运维，<b>sre</b>，<b>devops</b>，互联网公司，都是以<b>web</b>端产品为主<b>)</b></div>
<div class="r" style="left:110px;top:204px;font-size:36.3px;line-height:48.25px;">无论是短视频<b>app</b><br>还是浏览器的网站<br><br>都是围绕着 <b>web</b>的知识点<br><br><b>99.9%</b> 公司，必须使用得技术<br><b>nginx</b>（学完了，就可以去维护网站了，部署网站，上线网站<b>)</b></div>
<div class="r" style="left:402px;top:1041px;font-size:36.3px;line-height:48.25px;">对我们近期的所学，有一个清晰认识<br>以及后面一周的学习内容，有了基本认识的<br><br>扣 <b>2</b></div>
<div class="r" style="left:1790px;top:1070.5px;font-size:42.3px;line-height:55px;"><b style="letter-spacing:.008em">shell</b>脚本部署<br><b style="letter-spacing:.014em">ansible</b>部署</div>
<div class="r" style="left:2533px;top:1176px;font-size:42.3px;line-height:56px;"><b style="letter-spacing:-.01em">lsyncd</b></div>
<div class="r" style="left:1379.5px;top:1255.5px;font-size:42.3px;line-height:56px;"><b style="letter-spacing:-.04em">SSH</b> 对称加密，非对称加密</div>
<div class="r" style="left:2462px;top:1284.3px;font-size:30.2px;line-height:40.4px;"><b>1. ansible ad-hoc</b> 学习大量的模块使用（根本功能<b>)</b><br><b>(ansible</b>利用模块，转化为远程的<b>linux</b>命令去部署目标机器<b>)</b><br><br><b>2.</b> 等于使用模块的另外两种形式<br><b>ansible-playbook</b><br><br><b>3.</b> 为了解决大型，复杂软件部署的 剧本升级版，<b>role</b></div>
</div>

<!-- ===== app UI overlays ===== -->
<div id="ui">
<div style="position:absolute;left:3367.600px;top:-64px;width:100.800px;height:100.800px;border-radius:50%;box-sizing:border-box;border:2.500px solid #6a6a6a;background:#1db954;"></div>
<div style="position:absolute;left:3372.800px;top:-58.800px;width:90.400px;height:90.400px;border-radius:50%;background:radial-gradient(circle at 50% 45%,#f7fbf7 0%,#e2efe2 55%,#c9e2c9 100%);"></div>
<svg style="position:absolute;left:3390px;top:-7px" width="14" height="20" viewBox="0 0 14 20"><path d="M5,1.500a2,2 0 0 1 4,0V11a4,4 0 1 1 -4,0Z" fill="none" stroke="#1db954" stroke-width="1.600"/><circle cx="7" cy="14.500" r="2.200" fill="#1db954"/><path d="M7,6V13" stroke="#1db954" stroke-width="1.600"/></svg>
<div style="position:absolute;left:3408px;top:-3px;font-size:12.500px;line-height:16px;color:#222;white-space:nowrap;">42&#176;C</div>
<div style="position:absolute;left:3406px;top:232px;width:140px;height:54px;background:#2b2e31;border-radius:3px 0 0 3px;"></div>
<svg style="position:absolute;left:3422px;top:246px" width="22" height="26" viewBox="0 0 22 26"><rect x="6.500" y="1" width="9" height="15.500" rx="4.500" fill="#8d9297"/><path d="M6.500,9.500h9V12a4.500,4.500 0 0 1 -9,0Z" fill="#1ecb5d"/><path d="M3.500,12a7.500,7.500 0 0 0 15,0M11,19.500V23.500M6.500,23.500h9" fill="none" stroke="#8d9297" stroke-width="1.400"/></svg>
<div style="position:absolute;left:3460px;top:245px;width:1.500px;height:29px;background:#191b1d;"></div>
<div style="position:absolute;left:3475px;top:247px;font-size:18px;line-height:26px;color:#fff;white-space:nowrap;">正在讲话</div>
<div style="position:absolute;left:0;top:1616px;width:214.500px;height:44px;background:#0f0f13;"></div>
<svg style="position:absolute;left:15px;top:1624.600px" width="26" height="26" viewBox="0 0 26 26"><circle cx="13" cy="13" r="12" fill="#8a8a8a"/><circle cx="8.700" cy="9.500" r="1.500" fill="#101013"/><circle cx="17.300" cy="9.500" r="1.500" fill="#101013"/><path d="M5.500,13.500h15a7.500,7.500 0 0 1 -15,0Z" fill="#101013"/></svg>
<div style="position:absolute;left:49.300px;top:1623px;width:1.600px;height:30px;background:#4c4c4c;"></div>
<div style="position:absolute;left:71px;top:1626px;font-size:18px;line-height:26px;color:#e4e4e4;white-space:nowrap;">说点什么...</div>
<div style="position:absolute;left:170.200px;top:1623px;width:1.600px;height:30px;background:#4c4c4c;"></div>
<svg style="position:absolute;left:183px;top:1630px" width="12" height="16" viewBox="0 0 12 16"><path d="M9.500,2L3,8L9.500,14" fill="none" stroke="#8a8a8a" stroke-width="1.700"/></svg>

</div>
</body>
</html>
